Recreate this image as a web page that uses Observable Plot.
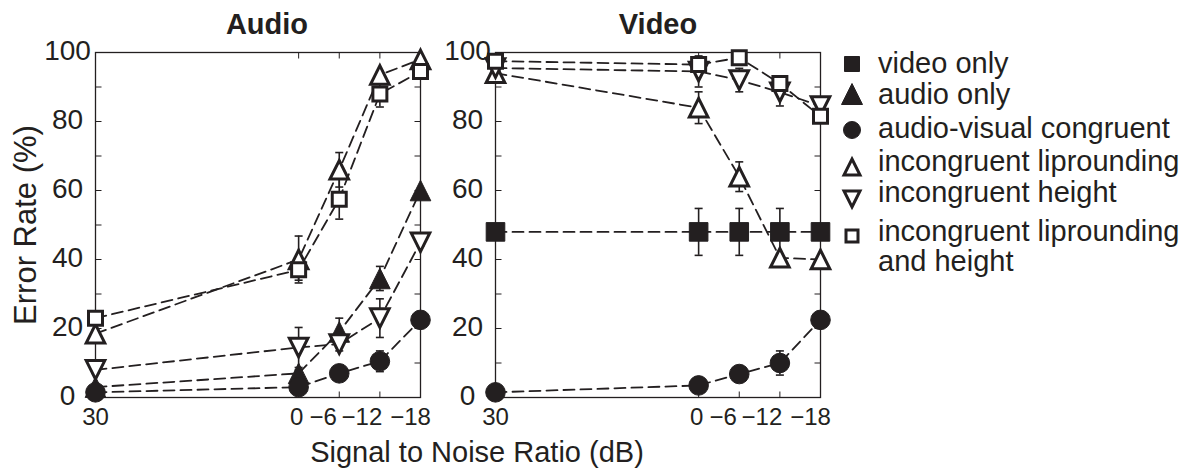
<!DOCTYPE html>
<html>
<head>
<meta charset="utf-8">
<script src="https://cdn.jsdelivr.net/npm/d3@7"></script>
<script src="https://cdn.jsdelivr.net/npm/@observablehq/plot@0.6"></script>
<style>
  body { margin: 0; background: #fff; }
  #chart { position: relative; width: 1200px; height: 472px; }
  #chart svg.overlay { position: absolute; left: 0; top: 0; pointer-events: none; }
</style>
</head>
<body>
<div id="chart"></div>
<script>
// Signal-to-noise ratios (dB) tested, from clean to noisiest
const snr = [30, 0, -6, -12, -18];
const panels = ["Audio", "Video"];
const conditions = [
  "video only",
  "audio only",
  "audio-visual congruent",
  "incongruent liprounding",
  "incongruent height",
  "incongruent liprounding and height"
];
const yTicks = [0, 10, 20, 30, 40, 50, 60, 70, 80, 90, 100];
const yTickLabels = [0, 20, 40, 60, 80, 100];

// Audio responses: error rate (%) and error-bar half-length per SNR
const audioAudioOnly = [3, 7, 19, 34.5, 60];
const audioAudioOnlyErr = [0.5, 1, 4, 3.5, 0];
const audioCongruent = [1.5, 3, 7, 10.5, 22.5];
const audioCongruentErr = [0, 0.5, 1, 3, 0];
const audioLiprounding = [18.5, 40, 66, 93.5, 98];
const audioLiproundingErr = [1, 6.8, 5, 1, 0];
const audioHeight = [8, 14.5, 15.5, 23, 45];
const audioHeightErr = [1, 5.8, 2, 5.6, 1];
const audioBoth = [23, 37, 57.5, 88, 94.5];
const audioBothErr = [1, 3, 5.8, 3.8, 1];

// Video responses
const videoVideoOnly = [48, 48, 48, 48, 48];
const videoVideoOnlyErr = [0, 6.8, 6.8, 6.8, 0];
const videoCongruent = [1.5, 3.5, 6.8, 10, 22.5];
const videoCongruentErr = [0, 0.5, 1, 3.5, 0];
const videoLiprounding = [94, 84, 64, 40.5, 40];
const videoLiproundingErr = [0.5, 4.6, 4.3, 1, 0];
const videoHeight = [95.5, 94.5, 92, 88.5, 84.5];
const videoHeightErr = [1, 4.5, 3.4, 4, 1];
const videoBoth = [97.5, 96.5, 98.5, 91, 81.5];
const videoBothErr = [0.5, 1, 1, 1, 1];

const ink = "#231f20";
const font = "'Liberation Sans', Arial, Helvetica, sans-serif";

// Marker shapes (Plot passes size = pi * r^2)
const half = (size) => Math.sqrt(size / Math.PI);
const square = {draw(c, s) { const r = half(s); c.moveTo(-r, -r); c.lineTo(r, -r); c.lineTo(r, r); c.lineTo(-r, r); c.closePath(); }};
const triUp = {draw(c, s) { const r = half(s); c.moveTo(0, -r); c.lineTo(r, r); c.lineTo(-r, r); c.closePath(); }};
const triDown = {draw(c, s) { const r = half(s); c.moveTo(0, r); c.lineTo(r, -r); c.lineTo(-r, -r); c.closePath(); }};
const circle = {draw(c, s) { const r = half(s); c.moveTo(r, 0); c.arc(0, 0, r, 0, 2 * Math.PI); c.closePath(); }};
const hTick = {draw(c, s) { const r = half(s); c.moveTo(-r, 0); c.lineTo(r, 0); }};
const vTick = {draw(c, s) { const r = half(s); c.moveTo(0, -r); c.lineTo(0, r); }};

const markerStyle = {
  "video only": {symbol: square, r: 9.3, fill: ink, sw: 1},
  "audio only": {symbol: triUp, r: 10.3, fill: ink, sw: 1},
  "audio-visual congruent": {symbol: circle, r: 9.8, fill: ink, sw: 1},
  "incongruent liprounding": {symbol: triUp, r: 9.3, fill: "white", sw: 3},
  "incongruent height": {symbol: triDown, r: 9.3, fill: "white", sw: 3},
  "incongruent liprounding and height": {symbol: square, r: 7, fill: "white", sw: 3}
};

const series = [
  ["Video", conditions[0], videoVideoOnly, videoVideoOnlyErr],
  ["Audio", conditions[1], audioAudioOnly, audioAudioOnlyErr],
  ["Audio", conditions[2], audioCongruent, audioCongruentErr],
  ["Video", conditions[2], videoCongruent, videoCongruentErr],
  ["Audio", conditions[3], audioLiprounding, audioLiproundingErr],
  ["Video", conditions[3], videoLiprounding, videoLiproundingErr],
  ["Audio", conditions[4], audioHeight, audioHeightErr],
  ["Video", conditions[4], videoHeight, videoHeightErr],
  ["Audio", conditions[5], audioBoth, audioBothErr],
  ["Video", conditions[5], videoBoth, videoBothErr]
];
const rows = series.flatMap(([panel, condition, rates, errs]) =>
  snr.map((s, i) => ({panel, condition, snr: s, rate: rates[i], err: errs[i]})));
const withErr = rows.filter((d) => d.err > 0);

const fmt = (d) => (d < 0 ? "\u2212" + Math.abs(d) : String(d));
// the crowded low-SNR labels are nudged left so they do not collide
const tickLabelShift = [0, -2, -16, -18, -10];
const titleShift = [9, 0];

const chart = Plot.plot({
  width: 1200,
  height: 472,
  marginTop: 52,
  marginBottom: 75,
  marginLeft: 95,
  marginRight: 380,
  style: {fontFamily: font, color: ink, background: "white", overflow: "visible"},
  x: {domain: [30, -18], label: null},
  y: {domain: [0, 100], label: null},
  fx: {domain: panels, paddingInner: 0.1875, paddingOuter: 0, label: null, axis: null},
  marks: [
    Plot.frame({stroke: ink, strokeWidth: 1.3}),
    // inward ticks on all four sides
    Plot.dot(yTicks, {y: (d) => d, frameAnchor: "left", symbol: hTick, r: 3, dx: 3, stroke: ink, fill: "none", strokeWidth: 1}),
    Plot.dot(yTicks, {y: (d) => d, frameAnchor: "right", symbol: hTick, r: 3, dx: -3, stroke: ink, fill: "none", strokeWidth: 1}),
    Plot.dot(snr, {x: (d) => d, frameAnchor: "top", symbol: vTick, r: 3, dy: 3, stroke: ink, fill: "none", strokeWidth: 1}),
    Plot.dot(snr, {x: (d) => d, frameAnchor: "bottom", symbol: vTick, r: 3, dy: -3, stroke: ink, fill: "none", strokeWidth: 1}),
    Plot.axisY({ticks: yTickLabels, anchor: "left", tickSize: 0, tickPadding: 28, textAnchor: "middle", fontSize: 28, dy: -1, facetAnchor: null, label: null}),
    ...snr.map((s, i) => Plot.axisX({ticks: [s], anchor: "bottom", tickSize: 0, tickPadding: 10, fontSize: 24, tickFormat: fmt, dx: tickLabelShift[i], label: null})),
    // panel titles
    ...panels.map((p, i) => Plot.text([p], {fx: (d) => d, text: (d) => d, frameAnchor: "top", textAnchor: "middle", lineAnchor: "middle", dy: -28, dx: titleShift[i], fontSize: 29, fontWeight: "bold", fill: ink})),
    Plot.text(["Error Rate (%)"], {fx: () => "Audio", frameAnchor: "left", textAnchor: "middle", rotate: -90, dx: -69, fontSize: 31, fill: ink}),
    // dashed connecting lines
    Plot.line(rows, {x: "snr", y: "rate", fx: "panel", z: "condition", stroke: ink, strokeWidth: 1.8, strokeDasharray: "11,6"}),
    // error bars with caps
    Plot.ruleX(withErr, {x: "snr", y1: (d) => d.rate - d.err, y2: (d) => d.rate + d.err, fx: "panel", stroke: ink, strokeWidth: 1.6}),
    Plot.dot(withErr, {x: "snr", y: (d) => d.rate + d.err, fx: "panel", symbol: hTick, r: 4, stroke: ink, fill: "none", strokeWidth: 1.6}),
    Plot.dot(withErr, {x: "snr", y: (d) => d.rate - d.err, fx: "panel", symbol: hTick, r: 4, stroke: ink, fill: "none", strokeWidth: 1.6}),
    // markers, drawn condition by condition
    ...conditions.map((c) => {
      const st = markerStyle[c];
      return Plot.dot(rows.filter((d) => d.condition === c), {
        x: "snr", y: "rate", fx: "panel",
        symbol: st.symbol, r: st.r, fill: st.fill, stroke: ink, strokeWidth: st.sw, strokeLinejoin: "miter"
      });
    })
  ]
});

const host = document.getElementById("chart");
host.appendChild(chart);

// Shared x-axis title and condition legend
const overlay = d3.select(host).append("svg")
  .attr("class", "overlay")
  .attr("width", 1200).attr("height", 472)
  .style("font-family", font).style("fill", ink);

overlay.append("text")
  .attr("x", 477).attr("y", 462)
  .attr("text-anchor", "middle")
  .attr("font-size", 29)
  .text("Signal to Noise Ratio (dB)");

const legendLines = [
  ["video only"],
  ["audio only"],
  ["audio-visual congruent"],
  ["incongruent liprounding"],
  ["incongruent height"],
  ["incongruent liprounding", "and height"]
];
const legendSymbolY = [64, 94, 130, 167, 199, 236];
const legendTextY = [73, 104, 138, 171, 202, 241];
const legendR = [7.5, 10.5, 8.5, 8, 8, 6];
conditions.forEach((c, i) => {
  const st = markerStyle[c];
  const g = overlay.append("g");
  g.append("path")
    .attr("transform", `translate(852,${legendSymbolY[i]})`)
    .attr("d", d3.symbol(st.symbol, Math.PI * legendR[i] * legendR[i])())
    .attr("fill", st.fill).attr("stroke", ink)
    .attr("stroke-width", st.sw === 3 ? 3 : 1).attr("stroke-linejoin", "miter");
  legendLines[i].forEach((line, j) => {
    g.append("text")
      .attr("x", 878).attr("y", legendTextY[i] + j * 30)
      .attr("font-size", 29)
      .text(line);
  });
});
</script>
</body>
</html>
